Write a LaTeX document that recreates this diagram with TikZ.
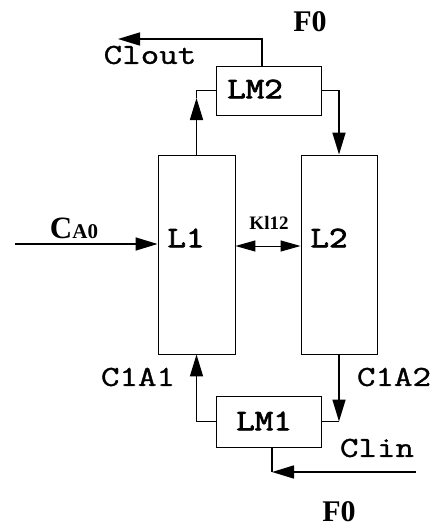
\documentclass[tikz,border=0pt]{standalone}
\usepackage{fontspec}
\setmainfont{Liberation Serif}
\newfontfamily\monofam[FakeStretch=1.24,FakeBold=1.2]{Latin Modern Mono}
\newfontfamily\monobfam[FakeStretch=1.2,FakeBold=2.5]{Latin Modern Mono}
\usetikzlibrary{arrows.meta}
\begin{document}
\begin{tikzpicture}[x=1pt,y=-1pt,
  box/.style={draw,line width=0.9pt,inner sep=0pt},
  conn/.style={line width=1.6pt},
  arr/.style={conn,-{Triangle[length=22pt,width=13pt]}},
  darr/.style={line width=1pt,{Triangle[length=20pt,width=11pt]}-{Triangle[length=20pt,width=11pt]}},
  mono/.style={font=\monofam\fontsize{29}{29}\selectfont,inner sep=0pt},
  monob/.style={font=\monobfam\fontsize{30}{30}\selectfont,inner sep=0pt},
  serb/.style={font=\bfseries\fontsize{30}{30}\selectfont,inner sep=0pt}]
\useasboundingbox (0,0) rectangle (435,527);
% boxes
\node[box,minimum width=77pt,minimum height=199pt] (L1) at (196.5,254.5) {};
\node[box,minimum width=76pt,minimum height=199pt] (L2) at (339,254.5) {};
\node[box,minimum width=105pt,minimum height=49pt] (LM2) at (268.5,90.5) {};
\node[box,minimum width=105pt,minimum height=51pt] (LM1) at (268.5,421.5) {};
% texts
\node[monob] (tLM2) at (255,89) {LM2};
\node[monob] (tLM1) at (264,421) {LM1};
\node[monob] (tL1) at (186,238) {L1};
\node[monob] (tL2) at (329,238) {L2};
\node[serb] (F0t) at (310,22) {F0};
\node[serb] (F0b) at (339,512) {F0};
\node[mono] (tClout) at (150,55) {Clout};
\node[mono] (tC1A1) at (138,377) {C1A1};
\node[mono] (tC1A2) at (394,377) {C1A2};
\node[mono] (tClin) at (377,448) {Clin};
\node[inner sep=0pt,font=\bfseries] (tCA0) at (74,228) {\fontsize{31}{31}\selectfont C\fontsize{21}{21}\selectfont A0};
\node[inner sep=0pt,font=\bfseries\fontsize{19}{19}\selectfont] (tK) at (269,223) {Kl12};
% coordinates
\coordinate (outend) at (118,39);
\coordinate (inA) at (15,244);
\coordinate (inCl) at (416,472);
\coordinate (up1) at (196.5,98);
% connectors
\draw[arr] (L1.north) -- (up1);
\draw[conn] (up1) |- (LM2.west);
\draw[arr] (LM2.east) -| (L2.north);
\draw[arr] ([xshift=-6.5pt]LM2.north) |- (outend);
\draw[arr] (inA) -- (inA -| L1.west);
\draw[darr] ([yshift=8.5pt]L1.east) -- ([yshift=8.5pt]L2.west);
\draw[arr] (LM1.west) -| (L1.south);
\coordinate (c2) at (L2.south |- LM1.west);
\draw[arr] (L2.south) -- (c2);
\draw[conn] (c2) -- (LM1.east);
\coordinate (c3) at ([xshift=3.5pt]LM1.south |- inCl);
\draw[arr] (inCl) -- (c3);
\draw[conn] (c3) -- (c3 |- LM1.south);
\end{tikzpicture}
\end{document}
